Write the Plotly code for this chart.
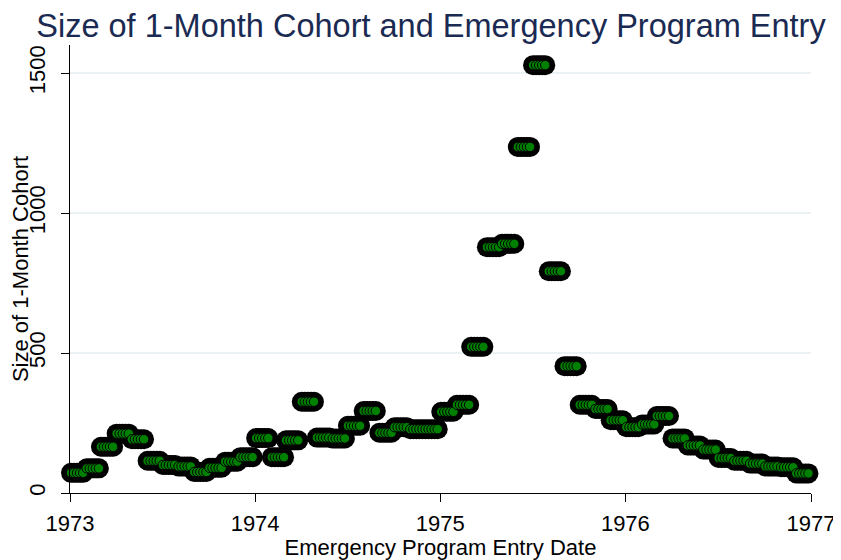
import plotly.graph_objects as go

# Monthly cohort sizes (Jan..Dec)
years = [1973, 1974, 1975, 1976]
cohort_1973 = [72, 88, 165, 212, 192, 115, 100, 95, 75, 90, 112, 128]
cohort_1974 = [196, 128, 188, 326, 198, 195, 240, 293, 215, 235, 228, 228]
cohort_1975 = [290, 315, 522, 878, 890, 1236, 1528, 792, 453, 315, 300, 260]
cohort_1976 = [235, 245, 275, 195, 170, 155, 125, 115, 105, 95, 92, 70]
entry_days = [3, 9, 15, 21, 27]

year_ticks = ["1973-01-01", "1974-01-01", "1975-01-01", "1976-01-01", "1977-01-01"]
year_labels = ["1973", "1974", "1975", "1976", "1977"]
y_ticks = [0, 500, 1000, 1500]

xs, ys = [], []
for yr, vals in zip(years, [cohort_1973, cohort_1974, cohort_1975, cohort_1976]):
    for m, v in enumerate(vals, start=1):
        for d in entry_days:
            xs.append(f"{yr}-{m:02d}-{d:02d}")
            ys.append(v)

# page body adds an 8px margin, so the figure is drawn 8px smaller
W, H = 833, 552

fig = go.Figure()
fig.add_trace(go.Scatter(x=xs, y=ys, mode="markers",
                         marker=dict(size=20, color="black"),
                         hoverinfo="skip", cliponaxis=False))
fig.add_trace(go.Scatter(x=xs, y=ys, mode="markers",
                         marker=dict(size=9.5, color="#008000",
                                     line=dict(color="black", width=1)),
                         cliponaxis=False))

fig.update_layout(
    width=W, height=H,
    margin=dict(l=62, r=30, t=37, b=67),
    paper_bgcolor="white", plot_bgcolor="white",
    showlegend=False,
    font=dict(family="Liberation Sans, Arial, sans-serif", color="black"),
    title=dict(text="Size of 1-Month Cohort and Emergency Program Entry",
               font=dict(size=32.5, color="#1a2a52"),
               x=423 / W, xanchor="center", xref="container",
               y=1 - 18 / H, yanchor="middle", yref="container"),
    xaxis=dict(type="date", range=["1973-01-01", "1977-01-01"],
               tickmode="array", tickvals=year_ticks, ticktext=year_labels,
               showline=True, linecolor="black", linewidth=1,
               ticks="outside", ticklen=8, tickcolor="black",
               showgrid=False, zeroline=False,
               tickfont=dict(size=22), ticklabelstandoff=3,
               title=dict(text="Emergency Program Entry Date", font=dict(size=22), standoff=0),
               automargin=False),
    yaxis=dict(range=[0, 1600], tickmode="array", tickvals=y_ticks,
               tickangle=-90,
               showline=True, linecolor="black", linewidth=1,
               ticks="outside", ticklen=8, tickcolor="black",
               showgrid=True, gridcolor="#EAF2F3", gridwidth=1.5,
               zeroline=False,
               tickfont=dict(size=22), ticklabelstandoff=7,
               title=dict(text="Size of 1-Month Cohort", font=dict(size=22), standoff=0),
               automargin=False),
)

fig.write_html("out.html")
